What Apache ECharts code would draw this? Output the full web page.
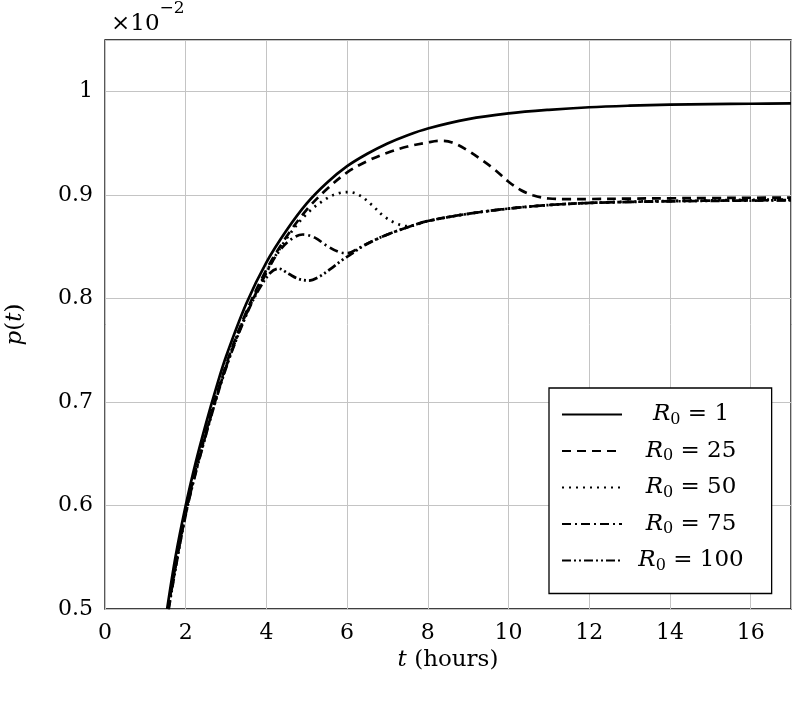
<!DOCTYPE html>
<html><head><meta charset="utf-8">
<script src="https://cdn.jsdelivr.net/npm/echarts@6/dist/echarts.min.js"></script>
<style>html,body{margin:0;padding:0;background:#fff}#c{width:794px;height:703px}</style>
</head><body><div id="c"></div>
<script>
// R0 values (legend)
const r0Values = ['1', '25', '50', '75', '100'];
// axis ranges
const xMin = 0, xMax = 17, xStep = 2;
const yMin = 0.5, yMax = 1.05, yStep = 0.1;

// [t (hours), p(t) x 1e2]
const seriesR1 = [[1.54,0.5],[1.75,0.551],[2,0.6],[2.25,0.642],[2.5,0.679],[2.75,0.713],[3,0.744],[3.5,0.795],[4,0.835],[4.5,0.866],[5,0.892],[5.5,0.912],[6,0.928],[6.5,0.940],[7,0.950],[7.5,0.958],[8,0.9645],[9,0.9735],[10,0.979],[11,0.9825],[12,0.985],[13,0.9865],[14,0.9875],[15,0.988],[16,0.9884],[17,0.9887]];
const seriesR25 = [[1.56,0.5],[2,0.594],[2.5,0.671],[3,0.736],[3.5,0.787],[4,0.828],[4.5,0.860],[5,0.886],[5.5,0.906],[6,0.922],[6.5,0.933],[7,0.941],[7.5,0.947],[8,0.951],[8.3,0.9525],[8.6,0.951],[9,0.943],[9.3,0.935],[9.65,0.925],[10,0.913],[10.3,0.905],[10.6,0.900],[11,0.8968],[11.5,0.8962],[12,0.8963],[13,0.8967],[14,0.897],[15,0.8972],[16,0.8975],[17,0.8977]];
const seriesR50 = [[1.56,0.5],[2,0.593],[2.5,0.670],[3,0.735],[3.5,0.786],[4,0.826],[4.5,0.858],[5,0.882],[5.5,0.897],[5.8,0.902],[6.05,0.903],[6.3,0.900],[6.6,0.891],[6.9,0.880],[7.2,0.873],[7.5,0.870],[8,0.875],[9,0.882],[10,0.887],[11,0.8905],[12,0.8925],[13,0.8937],[14,0.8945],[15,0.895],[16,0.8955],[17,0.8958]];
const seriesR75 = [[1.57,0.5],[2,0.592],[2.5,0.669],[3,0.734],[3.5,0.785],[4,0.825],[4.3,0.845],[4.6,0.857],[4.9,0.862],[5.2,0.859],[5.5,0.851],[5.8,0.845],[6,0.844],[6.3,0.849],[6.6,0.855],[7,0.862],[7.5,0.869],[8,0.875],[9,0.882],[10,0.887],[11,0.8905],[12,0.8925],[13,0.8935],[14,0.8942],[15,0.8947],[16,0.895],[17,0.8952]];
const seriesR100 = [[1.58,0.5],[2,0.591],[2.5,0.668],[3,0.733],[3.5,0.784],[3.8,0.808],[4.1,0.825],[4.3,0.829],[4.55,0.824],[4.8,0.819],[5.05,0.8175],[5.3,0.821],[5.6,0.829],[5.9,0.838],[6.1,0.843],[6.4,0.851],[6.7,0.857],[7,0.862],[7.5,0.869],[8,0.875],[9,0.882],[10,0.887],[11,0.8905],[12,0.8925],[13,0.8935],[14,0.894],[15,0.8945],[16,0.8948],[17,0.895]];

const allData = [seriesR1, seriesR25, seriesR50, seriesR75, seriesR100];
const dashes = ['solid', [9,6], [2,5], [9,4,2,4], [9,3,2,3,2,3]];

const FONT = 'DejaVu Serif';
const chart = echarts.init(document.getElementById('c'), null, {renderer: 'canvas'});

const names = r0Values.map(v => 'R0 = ' + v);
const series = allData.map((d, i) => ({
  name: names[i],
  type: 'line',
  data: d,
  symbol: 'none',
  smooth: 0.35,
  clip: true,
  color: '#000',
  itemStyle: {color: '#000'},
  z: 10 - i,
  lineStyle: {color: '#000', width: 2.7, type: dashes[i], cap: 'butt'}
}));

chart.setOption({
  animation: false,
  backgroundColor: '#fff',
  color: ['#000'],
  textStyle: {fontFamily: FONT},
  grid: {left: 105, right: 3, top: 40, bottom: 94, outerBoundsMode: 'none', containLabel: false,
    show: true, borderColor: '#000', borderWidth: 1.3, backgroundColor: 'transparent'},
  title: {
    text: '{a|×10}{b|−2}',
    left: 106, top: -5,
    textStyle: {
      fontWeight: 'normal',
      rich: {
        a: {fontFamily: FONT, fontWeight: 'normal', fontSize: 23, color: '#000', verticalAlign: 'bottom', lineHeight: 36},
        b: {fontFamily: FONT, fontWeight: 'normal', fontSize: 17, color: '#000', verticalAlign: 'top', lineHeight: 36}
      }
    }
  },
  legend: {
    orient: 'vertical',
    left: 549, top: 388,
    padding: [15, 28, 20, 12],
    itemWidth: 60, itemHeight: 24, itemGap: 12,
    borderColor: '#000', borderWidth: 1.3, backgroundColor: '#fff',
    selectedMode: false,
    itemStyle: {opacity: 0, borderWidth: 0},
    data: names,
    formatter: function (name) {
      const v = name.replace('R0 = ', '');
      return '{i|R}{s|0}{n| = ' + v + '}';
    },
    textStyle: {
      width: 128,
      rich: {
        i: {fontFamily: FONT, fontStyle: 'italic', fontSize: 23, color: '#000', align: 'center', verticalAlign: 'middle', lineHeight: 26},
        s: {fontFamily: FONT, fontSize: 16, color: '#000', align: 'center', verticalAlign: 'bottom', lineHeight: 26},
        n: {fontFamily: FONT, fontSize: 23, color: '#000', align: 'center', verticalAlign: 'middle', lineHeight: 26}
      }
    }
  },
  xAxis: {
    type: 'value', min: xMin, max: xMax, interval: xStep,
    name: '{i|t}{n| (hours)}',
    nameLocation: 'middle', nameGap: 40,
    nameTextStyle: {rich: {
      i: {fontFamily: FONT, fontStyle: 'italic', fontSize: 23, color: '#000'},
      n: {fontFamily: FONT, fontSize: 23, color: '#000'}
    }},
    axisLine: {show: false},
    axisTick: {show: false},
    axisLabel: {fontFamily: FONT, fontSize: 22, color: '#000', margin: 13, showMaxLabel: false},
    splitLine: {show: true, lineStyle: {color: '#c4c4c4', width: 1}}
  },
  yAxis: {
    type: 'value', min: yMin, max: yMax, interval: yStep,
    name: '{i|p}{n|(}{i|t}{n|)}',
    nameLocation: 'middle', nameGap: 78, nameRotate: 90,
    nameTextStyle: {rich: {
      i: {fontFamily: FONT, fontStyle: 'italic', fontSize: 23, color: '#000'},
      n: {fontFamily: FONT, fontSize: 23, color: '#000'}
    }},
    axisLine: {show: false},
    axisTick: {show: false},
    axisLabel: {fontFamily: FONT, fontSize: 22, color: '#000', margin: 12, showMaxLabel: false,
      formatter: v => String(Math.round(v * 10) / 10)},
    splitLine: {show: true, lineStyle: {color: '#c4c4c4', width: 1}}
  },
  series: series
});
</script></body></html>
